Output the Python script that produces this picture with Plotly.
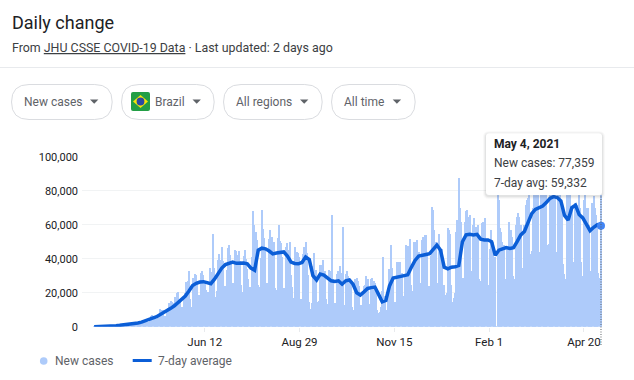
import pandas as pd
import plotly.graph_objects as go

W, H = 634, 380

# Daily new cases, Mar 13 2020 .. May 4 2021
new_cases = [
    30, 30, 40,
    60, 50, 70, 100, 170, 220, 150,
    250, 260, 230, 480, 430, 500, 350,
    320, 320, 1100, 1000, 1100, 1150, 850,
    900, 1200, 1700, 1700, 1200, 1000, 1200,
    1300, 1800, 2000, 2300, 2000, 2800, 1800,
    1800, 1500, 2700, 2700, 3700, 3500, 3000,
    3000, 5500, 6500, 7000, 5000, 4700, 4000,
    5000, 6900, 10500, 10000, 9900, 10200, 6700,
    5600, 9300, 11300, 13900, 15300, 15000, 7900,
    14300, 17400, 19900, 20600, 16500, 15800, 11700,
    11700, 16300, 20000, 26400, 26900, 33200, 16400,
    11600, 28900, 28600, 30900, 30800, 27000, 18900,
    15600, 32000, 32900, 30400, 25900, 21700, 17000,
    20500, 34900, 32200, 22700, 54800, 34600, 17500,
    21400, 39400, 42700, 39500, 46900, 38700, 24000,
    24000, 33800, 46700, 48100, 42200, 37900, 26000,
    20200, 45300, 44600, 42600, 45000, 39000, 24800,
    20300, 41800, 45400, 39900, 34200, 28500, 23500,
    20200, 41000, 68000, 59900, 55900, 51100, 24600,
    23300, 40800, 69000, 57800, 52400, 45400, 25800,
    16600, 51600, 57100, 53100, 50200, 49900, 23000,
    22000, 52200, 60100, 50600, 49300, 41000, 23100,
    19400, 47100, 49300, 45300, 50000, 30400, 23400,
    17100, 47100, 42700, 44000, 43500, 41300, 16200,
    14300, 42700, 46900, 50200, 43800, 30300, 14500,
    10300, 14300, 35800, 43800, 33500, 33500, 14700,
    15200, 36600, 36200, 39700, 30900, 33000, 16400,
    13400, 33500, 32800, 32400, 66000, 28400, 13900,
    14000, 31000, 33000, 36000, 32000, 26000, 59000,
    13000, 31000, 33000, 30000, 29000, 26000, 12000,
    8500, 10000, 28000, 29000, 27000, 24000, 11000,
    13000, 20000, 24000, 25000, 30000, 28000, 12000,
    13500, 28000, 29000, 27000, 26000, 23000, 10000,
    8500, 9000, 12000, 21000, 41000, 18000, 10000,
    10000, 23000, 34000, 48000, 35000, 30000, 13000,
    15000, 38000, 36000, 38000, 38000, 32000, 18000,
    16500, 31000, 48000, 47600, 38000, 52000, 25000,
    21000, 50000, 48000, 50000, 51000, 44000, 26000,
    20000, 51000, 53000, 54000, 54000, 43000, 24000,
    24000, 42000, 70500, 69000, 57000, 50000, 25000,
    26000, 55000, 46000, 46000, 22000, 25000, 19000,
    20000, 58000, 57000, 55000, 25000, 15000, 17000,
    20000, 56000, 63000, 87800, 70000, 62000, 29000,
    29000, 62000, 68000, 69000, 65000, 66000, 33000,
    24000, 60000, 64000, 59000, 56000, 60000, 28000,
    27000, 61000, 62000, 60000, 64000, 52000, 25000,
    24500, 46000, 57000, 50000, 30000, 41000, 500,
    82000, 74500, 58000, 56000, 50000, 48000, 27000,
    28000, 46000, 62000, 55000, 57000, 53000, 30000,
    28000, 60000, 65000, 67000, 65000, 60000, 33000,
    35000, 60000, 72000, 75000, 76000, 79000, 43000,
    45000, 70000, 80000, 77000, 85000, 85000, 44000,
    37000, 85000, 90000, 87000, 85000, 80000, 48000,
    49000, 82000, 89000, 97000, 85000, 76000, 44000,
    42000, 86000, 90000, 70000, 68000, 37000, 31000,
    28000, 86000, 92000, 86000, 93000, 71000, 38000,
    35000, 73000, 72000, 68000, 85000, 70000, 38000,
    30000, 75000, 80000, 70000, 70000, 60000, 33000,
    28000, 73000, 77000, 70000, 66000, 61000, 32000,
    28935, 77359,
]

# 7-day average, read every third day from Mar 13 2020 to May 4 2021
seven_day_avg = [
    30, 60, 90, 180, 300, 450, 600, 800, 1000, 1250,
    1500, 1900, 2200, 2700, 3300, 4300, 5000, 5700, 6900, 8200,
    9400, 10800, 12300, 14000, 15800, 18000, 21000, 24200, 25500, 26300,
    26500, 26000, 25300, 28000, 31000, 34500, 36500, 37500, 38000, 37300,
    37400, 37500, 37000, 34500, 33200, 45000, 46200, 45800, 44500, 42800,
    43300, 43800, 44000, 41500, 38000, 37200, 37000, 37800, 41000, 39500,
    30000, 27500, 31000, 30400, 28500, 27000, 26600, 27000, 25000, 27000,
    27500, 25000, 20000, 18600, 20500, 22500, 23000, 23300, 19000, 14700,
    15500, 24000, 28600, 29000, 29500, 30000, 30500, 35000, 39000, 41500,
    41800, 42500, 43000, 45500, 48000, 45000, 35000, 34000, 35000, 35300,
    36000, 50000, 54000, 54300, 54000, 54300, 51500, 51000, 51000, 50000,
    42000, 45000, 46000, 46500, 46000, 46500, 50000, 54000, 56000, 62000,
    66500, 69000, 70000, 71000, 73000, 75500, 76500, 76000, 74000, 65500,
    62700, 70000, 71500, 66000, 64000, 60500, 56500, 58500, 60000, 59332,
]

y_ticks = [0, 20000, 40000, 60000, 80000, 100000]
x_tick_dates = ["2020-06-12", "2020-08-29", "2020-11-15", "2021-02-01", "2021-04-20"]
x_tick_labels = ["Jun 12", "Aug 29", "Nov 15", "Feb 1", "Apr 20"]
filters = ["New cases", "Brazil", "All regions", "All time"]

case_dates = pd.date_range("2020-03-13", periods=len(new_cases), freq="D")
avg_dates = pd.date_range("2020-03-13", periods=len(seven_day_avg), freq="3D")
assert case_dates[-1] == pd.Timestamp("2021-05-04"), case_dates[-1]
assert avg_dates[-1] == pd.Timestamp("2021-05-04"), avg_dates[-1]

FONT = "Roboto, Arial, sans-serif"
INK = "#202124"
GREY = "#5f6368"
BAR = "#aecbfa"
LINE = "#0b5ed7"
DOT = "#4285f4"


def px(x):
    return x / W


def py(y):
    return 1 - y / H


def rrect(x0, y0, x1, y1, r):
    X0, X1, Y0, Y1 = px(x0), px(x1), py(y0), py(y1)
    rx, ry = r / W, r / H
    return (
        f"M{X0 + rx},{Y0} L{X1 - rx},{Y0} Q{X1},{Y0} {X1},{Y0 - ry} "
        f"L{X1},{Y1 + ry} Q{X1},{Y1} {X1 - rx},{Y1} L{X0 + rx},{Y1} "
        f"Q{X0},{Y1} {X0},{Y1 + ry} L{X0},{Y0 - ry} Q{X0},{Y0} {X0 + rx},{Y0} Z"
    )


def poly(points):
    return "M" + " L".join(f"{px(a)},{py(b)}" for a, b in points) + " Z"


shapes = []
annotations = []


def add_path(path, fill, line=None, width=1, layer="above"):
    shapes.append(dict(type="path", path=path, xref="paper", yref="paper", fillcolor=fill,
                       line=dict(color=line or "rgba(0,0,0,0)", width=width if line else 0),
                       layer=layer))


def add_text(x, y, text, size=12, color=INK, anchor="left"):
    annotations.append(dict(xref="paper", yref="paper", x=px(x), y=py(y), text=text,
                            showarrow=False, xanchor=anchor, yanchor="middle",
                            xshift=0, yshift=0, borderpad=0, borderwidth=0,
                            font=dict(family=FONT, size=size, color=color)))


def add_disc(cx, cy, r, fill):
    shapes.append(dict(type="circle", xref="paper", yref="paper", x0=px(cx - r), x1=px(cx + r),
                       y0=py(cy + r), y1=py(cy - r), fillcolor=fill, line=dict(width=0), layer="above"))


# header
add_text(12, 23, "Daily change", 18)
add_text(12, 47, "From <u>JHU CSSE COVID-19 Data</u> · Last updated: 2 days ago", 12.4, "#3c4043")
shapes.append(dict(type="line", xref="paper", yref="paper", x0=0, x1=1, y0=py(67.5), y1=py(67.5),
                   line=dict(color="#e8eaed", width=1)))

# filter pills
pills = [(11, 112.7, 24.3, 90), (121, 214.7, 155, 192.5), (223, 322.7, 236.3, 300), (331, 415.7, 344.3, 392.7)]
for label, (x0, x1, tx, ax) in zip(filters, pills):
    add_path(rrect(x0 + .5, 84.5, x1 - .5, 119.5, 17.5), "#ffffff", "#dadce0", 1)
    add_text(tx, 102, label, 12, GREY)
    add_path(poly([(ax, 99.5), (ax + 8.4, 99.5), (ax + 4.2, 103.8)]), GREY)

# flag
add_path(rrect(131, 92, 150, 111, 2), "#229e45")
add_path(poly([(133, 101.5), (140.5, 95), (148, 101.5), (140.5, 108)]), "#f8e509")
add_disc(140.5, 101.5, 3.9, "#2b49a3")

# legend
add_disc(43.7, 361, 3.8, BAR)
add_text(54.5, 361, "New cases", 12, GREY)
shapes.append(dict(type="line", xref="paper", yref="paper", x0=px(132.7), x1=px(151.7),
                   y0=py(360.5), y1=py(360.5), line=dict(color=LINE, width=3)))
add_text(157.7, 361, "7-day average", 12, GREY)

# crosshair
shapes.append(dict(type="line", xref="x", yref="paper", x0=case_dates[-1], x1=case_dates[-1],
                   y0=py(345), y1=py(195), line=dict(color="#5f6368", width=1, dash="1px,1.5px"), layer="above"))

# tooltip
for grow, alpha in [(3, 0.03), (2, 0.05), (1, 0.07)]:
    add_path(rrect(486 - grow, 133.3 - grow + 1, 602 + grow, 195 + grow + 1, 3 + grow), f"rgba(60,64,67,{alpha})")
add_path(rrect(486, 133.3, 602, 195, 3), "#ffffff")
add_text(494, 144, "<b>May 4, 2021</b>", 12)
add_text(494, 163, "New cases: 77,359", 12, "#3c4043")
add_text(494, 183, "7-day avg: 59,332", 12, "#3c4043")

fig = go.Figure()
fig.add_bar(x=case_dates, y=new_cases, marker=dict(color=BAR, line=dict(width=0)), name="New cases",
            showlegend=False, hoverinfo="skip")
fig.add_scatter(x=avg_dates, y=seven_day_avg, mode="lines", name="7-day average",
                line=dict(color=LINE, width=3.5, shape="linear"), showlegend=False, hoverinfo="skip")
fig.add_scatter(x=[avg_dates[-1]], y=[seven_day_avg[-1]], mode="markers", showlegend=False,
                marker=dict(color=DOT, size=8), cliponaxis=False, hoverinfo="skip")

fig.update_layout(
    width=W, height=H, autosize=False,
    margin=dict(l=0, r=0, t=0, b=0, autoexpand=False),
    paper_bgcolor="#ffffff", plot_bgcolor="#ffffff",
    bargap=0, showlegend=False,
    font=dict(family=FONT, size=11, color=INK),
    shapes=shapes, annotations=annotations,
    xaxis=dict(
        domain=[px(82), px(602)],
        type="date",
        range=["2020-03-03 00:00", "2021-05-04 20:00"],
        tickmode="array", tickvals=x_tick_dates, ticktext=x_tick_labels,
        ticks="outside", ticklen=4, tickcolor="#e8eaed", tickwidth=1,
        showgrid=False, zeroline=False, showline=False,
        tickfont=dict(family=FONT, size=11.5, color=INK),
    ),
    yaxis=dict(
        domain=[py(326.7), py(156.7)],
        range=[0, 100000],
        tickmode="array", tickvals=y_ticks, tickformat=",",
        gridcolor="#f1f3f4", gridwidth=1, zeroline=False, showline=False,
        ticks="", ticklabelstandoff=3, tickfont=dict(family=FONT, size=11, color=INK),
    ),
)

fig.write_html("out.html", post_script="document.body.style.margin='0';document.body.style.overflow='hidden';",
               config={"displayModeBar": False})
